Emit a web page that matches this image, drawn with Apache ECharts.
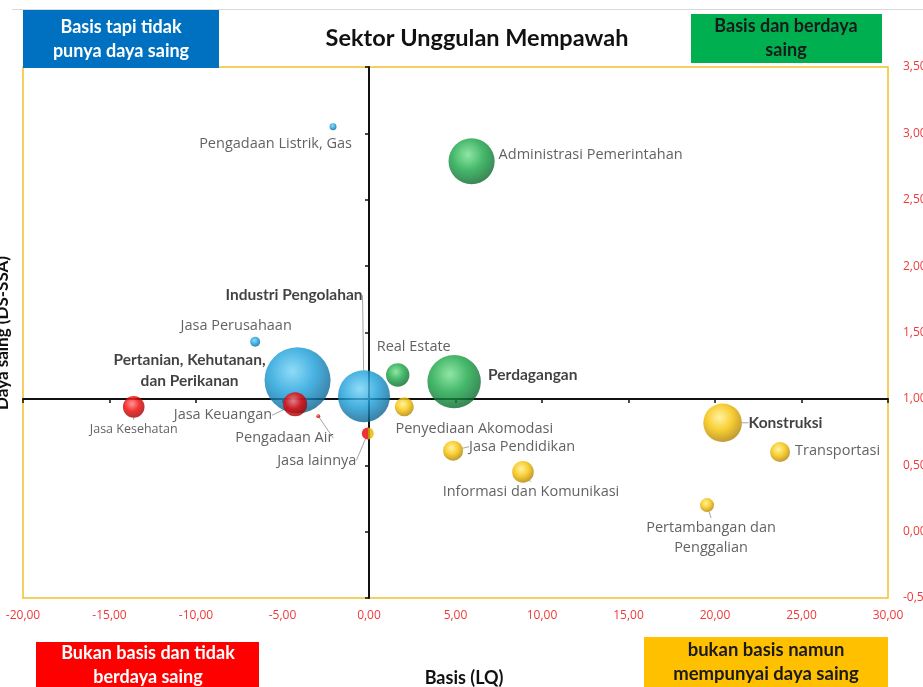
<!DOCTYPE html>
<html>
<head>
<meta charset="utf-8">
<title>Sektor Unggulan Mempawah</title>
<script src="https://cdn.jsdelivr.net/npm/echarts@6.0.0/dist/echarts.min.js"></script>
<style>
html, body { margin: 0; padding: 0; background: #fff; }
#chart { width: 923px; height: 687px; }
</style>
</head>
<body>
<div id="chart"></div>
<script>
// nama sektor
const sektor = [
    'Pengadaan Listrik, Gas',
    'Administrasi Pemerintahan',
    'Jasa Perusahaan',
    'Pertanian, Kehutanan,\ndan Perikanan',
    'Industri Pengolahan',
    'Real Estate',
    'Perdagangan',
    'Penyediaan Akomodasi',
    'Jasa Pendidikan',
    'Informasi dan Komunikasi',
    'Jasa lainnya',
    'Pengadaan Air',
    'Jasa Keuangan',
    'Jasa Kesehatan',
    'Konstruksi',
    'Transportasi',
    'Pertambangan dan\nPenggalian'
];
// Basis (LQ) -> sumbu x
const lq = [-2.08, 5.93, -6.58, -4.13, -0.29, 1.66, 4.92, 2.04, 4.86, 8.90, -0.07, -2.93, -4.27, -13.60, 20.44, 23.76, 19.54];
// Daya saing (DS-SSA) -> sumbu y
const dsSsa = [3.05, 2.79, 1.43, 1.14, 1.02, 1.18, 1.13, 0.94, 0.61, 0.45, 0.74, 0.87, 0.96, 0.94, 0.82, 0.60, 0.20];
// kontribusi (%) -> ukuran gelembung
const kontribusi = [0.28, 12.2, 0.57, 25.0, 15.5, 3.14, 16.4, 2.07, 2.30, 2.68, 0.83, 0.09, 3.31, 2.68, 8.55, 2.30, 1.12];

// sumbu
const xMin = -20, xMax = 30, xStep = 5;
const yMin = -0.5, yMax = 3.5, yStep = 0.5;
// garis potong kuadran
const batasX = 0, batasY = 1;

// sektor yang labelnya tebal
const sektorTebal = ['Pertanian, Kehutanan,\ndan Perikanan', 'Industri Pengolahan', 'Perdagangan', 'Konstruksi'];

// letak label: [dx, dy, align, pakai garis]
const letakLabel = {
    'Pengadaan Listrik, Gas': [19, 17, 'right', false],
    'Administrasi Pemerintahan': [27, -6, 'left', false],
    'Jasa Perusahaan': [-19, -16, 'center', false],
    'Pertanian, Kehutanan,\ndan Perikanan': [-108, -10, 'center', true],
    'Industri Pengolahan': [-70, -101, 'center', true],
    'Real Estate': [16, -28, 'center', false],
    'Perdagangan': [34, -7, 'left', false],
    'Penyediaan Akomodasi': [70, 22, 'center', false],
    'Jasa Pendidikan': [16, -4, 'left', true],
    'Informasi dan Komunikasi': [8, 20, 'center', true],
    'Jasa lainnya': [-51, 27, 'center', true],
    'Pengadaan Air': [-34, 22, 'center', true],
    'Jasa Keuangan': [-23, 11, 'right', true],
    'Jasa Kesehatan': [0, 23, 'center', true],
    'Konstruksi': [26, 0, 'left', true],
    'Transportasi': [15, -1, 'left', false],
    'Pertambangan dan\nPenggalian': [4, 33, 'center', true]
};

// warna bola per kuadran [terang, dasar, gelap]
const palet = {
    biru: ['#74d2f6', '#1a9fda', '#0a5c88'],
    hijau: ['#74e08e', '#17a545', '#07622a'],
    merah: ['#ff7a7a', '#f00000', '#950000'],
    kuning: ['#fff08a', '#f6c100', '#a87a00']
};

function bola(c) {
    return new echarts.graphic.RadialGradient(0.42, 0.36, 0.68, [
        { offset: 0, color: c[0] },
        { offset: 0.5, color: c[1] },
        { offset: 1, color: c[2] }
    ]);
}

function warna(x, y) {
    // gelembung yang tepat di garis x=0 dibelah dua warna
    if (Math.abs(x - batasX) < 0.2) {
        return new echarts.graphic.LinearGradient(0, 0, 1, 0, [
            { offset: 0, color: '#e80000' },
            { offset: 0.5, color: '#e80000' },
            { offset: 0.5, color: '#e8b400' },
            { offset: 1, color: '#e8b400' }
        ]);
    }
    if (y >= batasY) return bola(x < batasX ? palet.biru : palet.hijau);
    return bola(x < batasX ? palet.merah : palet.kuning);
}

const fmt = v => v.toFixed(2).replace('.', ',');

// yang besar digambar duluan supaya yang kecil di atas
const titik = sektor.map((nama, i) => ({
    name: nama,
    value: [lq[i], dsSsa[i], kontribusi[i]],
    itemStyle: { color: warna(lq[i], dsSsa[i]) },
    label: sektorTebal.includes(nama)
        ? { fontFamily: 'Lato', fontWeight: 'bold', fontSize: 15.5, color: '#111', lineHeight: 21 }
        : (nama === 'Jasa Kesehatan' ? { fontSize: 12.5 } : {}),
    labelLine: { show: letakLabel[nama][3] }
})).sort((a, b) => b.value[2] - a.value[2]);

const merahLabel = '#ee3b3b';
const kotak = (x, y, w, h, fill) => ({ type: 'rect', left: x, top: y, shape: { width: w, height: h }, style: { fill: fill }, z: 10 });
const tulisan = (x, y, text, fill, size) => ({
    type: 'text', x: x, y: y, z: 11,
    style: { text: text, fill: fill, font: 'bold ' + size + 'px Lato', align: 'center', verticalAlign: 'middle', lineHeight: 24 }
});

const chart = echarts.init(document.getElementById('chart'));

const option = {
    animation: false,
    backgroundColor: '#fff',
    grid: {
        left: 23, right: 35, top: 67, bottom: 89,
        show: true, borderColor: '#f2c12e', borderWidth: 1.5,
        outerBoundsMode: 'none'
    },
    xAxis: [
        {
            type: 'value', min: xMin, max: xMax, interval: xStep, position: 'bottom',
            axisLine: { show: false, onZero: false },
            axisTick: { show: false },
            splitLine: { show: false },
            axisLabel: { margin: 12, color: merahLabel, fontFamily: 'Open Sans', fontSize: 12, formatter: fmt }
        },
        {
            // garis hitam di y = 1
            type: 'value', min: xMin, max: xMax, interval: xStep, position: 'bottom',
            axisLine: { show: true, onZero: true, onZeroAxisIndex: 1, lineStyle: { color: '#111', width: 2 } },
            axisTick: { show: true, length: 4, lineStyle: { color: '#111', width: 1.5 } },
            axisLabel: { show: false },
            splitLine: { show: false }
        }
    ],
    yAxis: [
        {
            type: 'value', min: yMin, max: yMax, interval: yStep, position: 'right',
            axisLine: { show: false, onZero: false },
            axisTick: { show: false },
            splitLine: { show: false },
            axisLabel: { margin: 15, color: merahLabel, fontFamily: 'Open Sans', fontSize: 12, formatter: fmt }
        },
        {
            // geser 1 supaya titik nol jatuh di y = 1 pada sumbu utama
            type: 'value', min: yMin - batasY, max: yMax - batasY, interval: yStep, position: 'left',
            axisLine: { show: true, onZero: true, onZeroAxisIndex: 0, lineStyle: { color: '#111', width: 2 } },
            axisTick: { show: true, length: 4, lineStyle: { color: '#111', width: 1.5 } },
            axisLabel: { show: false },
            splitLine: { show: false }
        }
    ],
    series: [
        {
            type: 'scatter',
            xAxisIndex: 0,
            yAxisIndex: 0,
            data: titik,
            symbolSize: d => Math.sqrt(d[2]) * 13.2,
            label: {
                show: true,
                formatter: '{b}',
                fontFamily: 'Open Sans',
                fontSize: 14.5,
                color: '#3a3a3a',
                lineHeight: 20
            },
            labelLine: { show: false, lineStyle: { color: '#a6a6a6', width: 1 } },
            labelLayout: function (p) {
                const l = letakLabel[titik[p.dataIndex].name];
                return {
                    x: p.rect.x + p.rect.width / 2 + l[0],
                    y: p.rect.y + p.rect.height / 2 + l[1],
                    align: l[2],
                    verticalAlign: 'middle'
                };
            },
            emphasis: { disabled: true },
            z: 3
        }
    ],
    graphic: [
        { type: 'line', shape: { x1: 12, y1: 9.5, x2: 923, y2: 9.5 }, style: { stroke: '#d9d9d9', lineWidth: 1 } },
        kotak(23, 10, 196, 58, '#0070c0'),
        tulisan(121, 39, 'Basis tapi tidak\npunya daya saing', '#fff', 18),
        kotak(691, 14, 191, 49, '#00b050'),
        tulisan(786, 38, 'Basis dan berdaya\nsaing', '#1a1a1a', 18),
        kotak(36, 642, 223, 50, '#ff0000'),
        tulisan(148, 665, 'Bukan basis dan tidak\nberdaya saing', '#fff', 18),
        kotak(644, 637, 244, 55, '#ffc000'),
        tulisan(766, 662, 'bukan basis namun\nmempunyai daya saing', '#1a1a1a', 18.5),
        {
            type: 'text', x: 477, y: 38, z: 11,
            style: { text: 'Sektor Unggulan Mempawah', fill: '#111', font: 'bold 23.5px Lato', align: 'center', verticalAlign: 'middle' }
        },
        {
            type: 'text', x: 464, y: 678, z: 11,
            style: { text: 'Basis (LQ)', fill: '#111', font: 'bold 18px Lato', align: 'center', verticalAlign: 'middle' }
        },
        {
            type: 'text', x: 3, y: 333, rotation: Math.PI / 2, z: 11,
            style: { text: 'Daya saing (DS-SSA)', fill: '#111', font: 'bold 17px Lato', align: 'center', verticalAlign: 'middle' }
        }
    ]
};

chart.setOption(option);
</script>
</body>
</html>
